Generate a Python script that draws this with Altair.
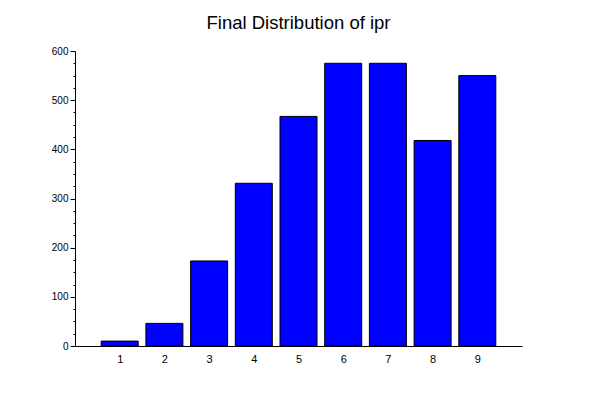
import altair as alt
import pandas as pd

categories = [1, 2, 3, 4, 5, 6, 7, 8, 9]
counts = [10, 46, 173, 331, 467, 575, 575, 418, 550]

df = pd.DataFrame({"ipr": categories, "count": counts})

font = "Liberation Sans"

chart = alt.Chart(df).mark_bar(
    color="#0000FF", stroke="black", strokeWidth=1, size=37
).encode(
    x=alt.X("ipr:Q",
            scale=alt.Scale(domain=[0, 10], nice=False, zero=False, padding=0),
            axis=alt.Axis(values=categories, ticks=False, grid=False, title=None,
                          domainColor="black", labelColor="black", labelFont=font,
                          labelFontSize=11, labelPadding=7, labelAngle=0)),
    y=alt.Y("count:Q",
            scale=alt.Scale(domain=[0, 600], nice=False, padding=0),
            axis=alt.Axis(values=list(range(0, 601, 25)), grid=False, title=None,
                          domainColor="black", tickColor="black", labelColor="black",
                          labelFont=font, labelFontSize=10, labelPadding=2,
                          labelOverlap=False,
                          labelExpr="datum.value % 100 === 0 ? datum.label : ''",
                          tickSize={"condition": {"test": "datum.value % 100 === 0", "value": 5}, "value": 2})),
).properties(
    width=447,
    height=295,
    title=alt.TitleParams("Final Distribution of ipr", font=font, fontSize=18.5,
                          fontWeight="normal", color="black", anchor="middle", offset=14),
    padding={"left": 67, "top": 43, "right": 20, "bottom": 20},
    autosize=alt.AutoSizeParams(type="none"),
).configure(background="white").configure_view(stroke=None)

chart.save("out.html", embed_options={"renderer": "svg", "actions": False})
